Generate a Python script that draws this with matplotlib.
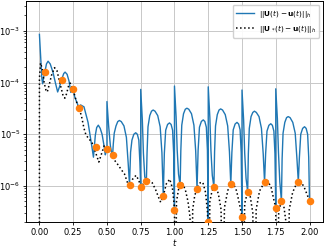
import matplotlib
matplotlib.use("Agg")
import matplotlib.pyplot as plt

# error of U(t): sampled along t, jumps drawn as repeated t values
blue_t = [
    0.000, 0.006, 0.012, 0.018, 0.024, 0.032, 0.042, 0.052, 0.064, 0.080,
    0.100, 0.120, 0.135, 0.150, 0.167, 0.180, 0.190, 0.205, 0.220, 0.232,
    0.250, 0.262, 0.275, 0.292, 0.305, 0.330, 0.360, 0.380, 0.392, 0.400,
    0.406, 0.414, 0.424, 0.436, 0.450, 0.464, 0.476, 0.488, 0.494, 0.500,
    0.500, 0.512, 0.525, 0.535, 0.542,
    0.547, 0.554, 0.567, 0.580, 0.592, 0.606, 0.626, 0.644, 0.657, 0.667,
    0.675, 0.685, 0.699, 0.713, 0.725, 0.736, 0.744, 0.750,
    0.750, 0.762, 0.770, 0.780, 0.792,
    0.797, 0.804, 0.817, 0.830, 0.842, 0.856, 0.876, 0.894, 0.907, 0.917,
    0.925, 0.935, 0.949, 0.963, 0.975, 0.986, 0.994, 1.000,
    1.000, 1.012, 1.020, 1.030, 1.042,
    1.047, 1.054, 1.067, 1.080, 1.092, 1.106, 1.126, 1.144, 1.157, 1.167,
    1.175, 1.185, 1.199, 1.213, 1.225, 1.236, 1.244, 1.250,
    1.250, 1.262, 1.270, 1.280, 1.292,
    1.297, 1.304, 1.317, 1.330, 1.342, 1.356, 1.376, 1.394, 1.407, 1.417,
    1.425, 1.435, 1.449, 1.463, 1.475, 1.486, 1.494, 1.500,
    1.500, 1.512, 1.520, 1.530, 1.542,
    1.547, 1.554, 1.567, 1.580, 1.592, 1.606, 1.626, 1.644, 1.657, 1.667,
    1.675, 1.685, 1.699, 1.713, 1.725, 1.736, 1.744, 1.750,
    1.750, 1.762, 1.770, 1.780, 1.792,
    1.797, 1.804, 1.817, 1.830, 1.842, 1.856, 1.876, 1.894, 1.907, 1.917,
    1.925, 1.935, 1.949, 1.963, 1.975, 1.986, 1.994, 2.000,
]
blue_err = [
    8.6e-4, 4.5e-4, 2.3e-4, 1.2e-4, 9.5e-5, 1.3e-4, 1.7e-4, 2.3e-4, 2.6e-4, 2.3e-4,
    1.6e-4, 9.5e-5, 6.6e-5, 8.5e-5, 1.2e-4, 1.5e-4, 1.6e-4, 1.45e-4, 1.05e-4, 6.5e-5,
    7.4e-5, 5.2e-5, 4.3e-5, 3.3e-5, 3.7e-5, 3.4e-5, 1.7e-5, 8.0e-6, 5.0e-6, 3.6e-6,
    5.6e-6, 9.6e-6, 1.35e-5, 1.5e-5, 1.3e-5, 1.0e-5, 6.5e-6, 4.0e-6, 4.6e-6, 5.1e-6,
    4.3e-5, 1.5e-5, 6.1e-6, 4.3e-6, 4.0e-6,
    6.5e-6, 1.05e-5, 1.45e-5, 1.76e-5, 1.85e-5, 1.76e-5, 1.45e-5, 8.7e-6, 2.8e-6, 1.05e-6,
    4.5e-6, 7.7e-6, 1.0e-5, 1.07e-5, 1.0e-5, 7.7e-6, 2.8e-6, 9.5e-7,
    7.4e-5, 1.9e-5, 4.3e-6, 1.5e-6, 1.24e-6,
    4.4e-6, 1.4e-5, 2.3e-5, 2.8e-5, 2.95e-5, 2.8e-5, 2.3e-5, 1.4e-5, 4.4e-6, 6.4e-7,
    4.3e-6, 1.2e-5, 1.55e-5, 1.66e-5, 1.55e-5, 1.2e-5, 4.3e-6, 3.4e-7,
    8.6e-5, 2.2e-5, 5.0e-6, 1.7e-6, 1.02e-6,
    4.8e-6, 1.5e-5, 2.5e-5, 3.05e-5, 3.2e-5, 3.05e-5, 2.5e-5, 1.5e-5, 4.8e-6, 8.7e-7,
    4.9e-6, 1.37e-5, 1.77e-5, 1.9e-5, 1.77e-5, 1.37e-5, 4.9e-6, 2.0e-7,
    8.3e-5, 2.1e-5, 4.8e-6, 1.6e-6, 9.5e-7,
    4.6e-6, 1.45e-5, 2.4e-5, 2.95e-5, 3.1e-5, 2.95e-5, 2.4e-5, 1.45e-5, 4.6e-6, 1.07e-6,
    4.4e-6, 1.22e-5, 1.58e-5, 1.7e-5, 1.58e-5, 1.22e-5, 4.4e-6, 2.5e-7,
    7.2e-5, 1.9e-5, 4.3e-6, 1.4e-6, 7.7e-7,
    4.2e-6, 1.3e-5, 2.2e-5, 2.65e-5, 2.8e-5, 2.65e-5, 2.2e-5, 1.3e-5, 4.2e-6, 1.18e-6,
    4.2e-6, 1.15e-5, 1.49e-5, 1.6e-5, 1.49e-5, 1.15e-5, 4.2e-6, 3.8e-7,
    7.6e-5, 2.0e-5, 4.5e-6, 1.2e-6, 5.1e-7,
    3.3e-6, 1.05e-5, 1.7e-5, 2.1e-5, 2.2e-5, 2.1e-5, 1.7e-5, 1.05e-5, 3.3e-6, 1.2e-6,
    3.6e-6, 1.0e-5, 1.3e-5, 1.4e-5, 1.3e-5, 1.0e-5, 3.6e-6, 5.1e-7,
]

# error of U_*(t)
star_t = [
    0.000, 0.000, 0.008, 0.020, 0.035, 0.048, 0.058, 0.072, 0.090, 0.112,
    0.130, 0.155, 0.175, 0.188, 0.200, 0.215, 0.228, 0.242, 0.260, 0.280,
    0.310, 0.330, 0.345, 0.370, 0.390, 0.415, 0.440, 0.460, 0.480, 0.500,
    0.525, 0.550, 0.580, 0.610, 0.630, 0.655, 0.667, 0.690, 0.715, 0.735,
    0.750, 0.770, 0.792, 0.810, 0.835, 0.860, 0.880, 0.898, 0.917, 0.940,
    0.965, 0.985, 0.997, 1.000, 1.004, 1.015, 1.030, 1.042, 1.058, 1.080,
    1.100, 1.115, 1.124, 1.135, 1.150, 1.167, 1.190, 1.210, 1.230, 1.245,
    1.250, 1.262, 1.278, 1.292, 1.305, 1.325, 1.345, 1.357, 1.370, 1.395,
    1.417, 1.435, 1.460, 1.485, 1.500, 1.503, 1.520, 1.542, 1.560, 1.580,
    1.593, 1.605, 1.630, 1.667, 1.690, 1.715, 1.735, 1.750, 1.753, 1.772,
    1.792, 1.810, 1.828, 1.837, 1.850, 1.875, 1.900, 1.917, 1.935, 1.960,
    1.985, 2.000,
]
star_err = [
    1e-9, 1.2e-4, 2.4e-4, 1.9e-4, 1.0e-4, 7.2e-5, 6.6e-5, 9.0e-5, 1.4e-4, 1.95e-4,
    1.7e-4, 9.0e-5, 5.6e-5, 5.0e-5, 6.0e-5, 8.5e-5, 9.8e-5, 8.2e-5, 5.8e-5, 3.8e-5,
    2.35e-5, 1.3e-5, 9.6e-6, 8.0e-6, 6.8e-6, 4.5e-6, 2.9e-6, 4.2e-6, 6.0e-6, 5.8e-6,
    4.6e-6, 3.3e-6, 2.6e-6, 2.0e-6, 1.7e-6, 1.1e-6, 1.0e-6, 1.35e-6, 1.6e-6, 1.3e-6,
    9.7e-7, 1.1e-6, 1.24e-6, 1.3e-6, 1.15e-6, 8.5e-7, 6.2e-7, 4.8e-7, 6.4e-7, 1.1e-6,
    1.35e-6, 9.0e-7, 4.5e-7, 3.4e-7, 1e-9, 5.0e-7, 8.5e-7, 1.02e-6, 1.12e-6, 8.5e-7,
    5.0e-7, 2.5e-7, 1e-9, 3.5e-7, 6.5e-7, 8.9e-7, 1.15e-6, 1.17e-6, 7.5e-7, 3.0e-7,
    1e-9, 5.0e-7, 8.0e-7, 9.5e-7, 1.0e-6, 7.0e-7, 3.5e-7, 1e-9, 3.8e-7, 8.2e-7,
    1.07e-6, 1.12e-6, 8.0e-7, 4.0e-7, 2.5e-7, 1e-9, 4.6e-7, 7.7e-7, 6.5e-7, 3.0e-7,
    1e-9, 3.5e-7, 8.0e-7, 1.18e-6, 1.25e-6, 9.5e-7, 5.5e-7, 3.8e-7, 1e-9, 3.2e-7,
    5.1e-7, 4.0e-7, 1.8e-7, 1e-9, 3.5e-7, 7.5e-7, 1.05e-6, 1.2e-6, 1.22e-6, 9.5e-7,
    6.5e-7, 5.1e-7,
]

# values at the time nodes
node_t = [0.042, 0.167, 0.250, 0.292, 0.417, 0.500, 0.542, 0.667, 0.750, 0.792,
          0.917, 1.000, 1.042, 1.167, 1.250, 1.292, 1.417, 1.500, 1.542, 1.667,
          1.750, 1.792, 1.917, 2.000]
node_err = [1.63e-4, 1.12e-4, 7.4e-5, 3.3e-5, 5.6e-6, 5.1e-6, 4.0e-6, 1.05e-6, 9.5e-7, 1.24e-6,
            6.4e-7, 3.4e-7, 1.02e-6, 8.7e-7, 2.0e-7, 9.5e-7, 1.07e-6, 2.5e-7, 7.7e-7, 1.18e-6,
            3.8e-7, 5.1e-7, 1.2e-6, 5.1e-7]

xticks = [0.0, 0.25, 0.5, 0.75, 1.0, 1.25, 1.5, 1.75, 2.0]

plt.rcParams['font.size'] = 6
fig = plt.figure(figsize=(3.24, 2.46), dpi=100)
ax = fig.add_axes([0.08, 0.0976, 0.917, 0.898])

ax.plot(blue_t, blue_err, color='#1f77b4', lw=1.0,
        label=r'$||\mathbf{U}(t) - \mathbf{u}(t)||_h$')
ax.plot(star_t, star_err, color='black', ls=':', lw=1.1,
        label=r'$||\mathbf{U}_*(t) - \mathbf{u}(t)||_h$')
ax.plot(node_t, node_err, 'o', color='#ff7f0e', ms=4.4, zorder=5)

ax.set_yscale('log')
ax.set_xlim(-0.1, 2.1)
ax.set_ylim(2.0e-7, 3.8e-3)
ax.set_xticks(xticks)
ax.set_xlabel('$t$', labelpad=0)
ax.grid(True, color='#c8c8c8', lw=0.7)
ax.tick_params(which='major', length=2.5, width=0.6, pad=1.5)
ax.tick_params(which='minor', length=1.5, width=0.5)
for s in ax.spines.values():
    s.set_linewidth(0.7)
ax.legend(loc='upper right', fontsize=5.3, handlelength=2.4, borderpad=0.45,
          labelspacing=0.35, handletextpad=0.7, framealpha=0.9)

fig.savefig('out.png', dpi=100)
